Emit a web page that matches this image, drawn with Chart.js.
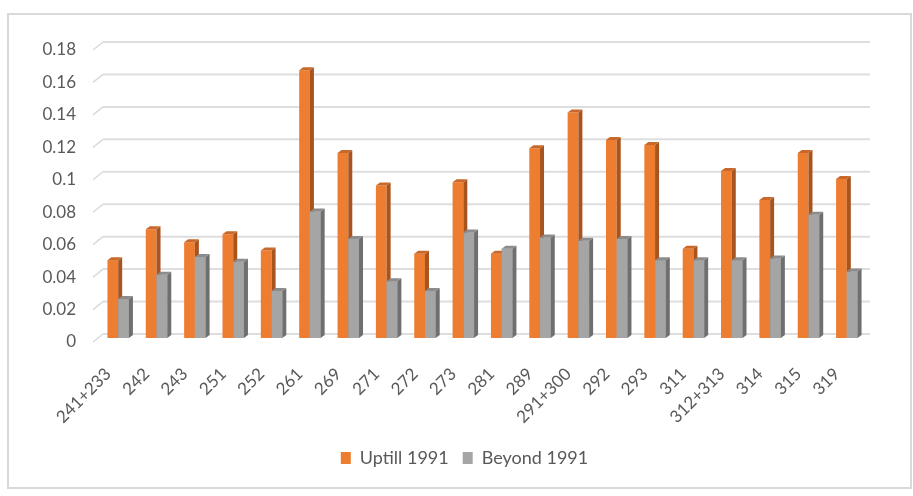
<!DOCTYPE html>
<html>
<head>
<meta charset="utf-8">
<script src="https://cdn.jsdelivr.net/npm/chart.js@4/dist/chart.umd.min.js"></script>
<style>
  html, body { margin: 0; padding: 0; background: #fff; }
  #wrap { width: 913px; height: 496px; position: relative; }
</style>
</head>
<body>
<div id="wrap"><canvas id="chart"></canvas></div>
<script>
const categories = ["241+233", "242", "243", "251", "252", "261", "269", "271", "272", "273",
  "281", "289", "291+300", "292", "293", "311", "312+313", "314", "315", "319"];
const uptill1991 = [0.048, 0.067, 0.059, 0.064, 0.054, 0.165, 0.114, 0.094, 0.052, 0.096,
  0.052, 0.117, 0.139, 0.122, 0.119, 0.055, 0.103, 0.085, 0.114, 0.098];
const beyond1991 = [0.024, 0.039, 0.050, 0.047, 0.029, 0.078, 0.061, 0.035, 0.029, 0.065,
  0.055, 0.062, 0.060, 0.061, 0.048, 0.048, 0.048, 0.049, 0.076, 0.041];
const yTicks = [0, 0.02, 0.04, 0.06, 0.08, 0.1, 0.12, 0.14, 0.16, 0.18];

const textColor = "#595959";
const fontName = "Lato, 'Liberation Sans', sans-serif";

// fake excel 3d look: side + top faces, border, slanted grid ticks
const depth = { dx: 4, dy: 3 };
const faces = [
  { side: "#a9541f", top: "#c8692b" },
  { side: "#6f6f6f", top: "#8c8c8c" }
];

function drawFaces(ctx, bar, col) {
  const p = bar.getProps(["x", "y", "base", "width"], true);
  const l = p.x - p.width / 2, r = p.x + p.width / 2;
  ctx.fillStyle = col.side;
  ctx.beginPath();
  ctx.moveTo(r, p.y);
  ctx.lineTo(r + depth.dx, p.y - depth.dy);
  ctx.lineTo(r + depth.dx, p.base - depth.dy);
  ctx.lineTo(r, p.base);
  ctx.closePath();
  ctx.fill();
  ctx.fillStyle = col.top;
  ctx.beginPath();
  ctx.moveTo(l, p.y);
  ctx.lineTo(l + depth.dx, p.y - depth.dy);
  ctx.lineTo(r + depth.dx, p.y - depth.dy);
  ctx.lineTo(r, p.y);
  ctx.closePath();
  ctx.fill();
}

const excelLook = {
  id: "excelLook",
  beforeDraw(chart) {
    const ctx = chart.ctx;
    ctx.save();
    ctx.strokeStyle = "#d9d9d9";
    ctx.lineWidth = 2;
    ctx.strokeRect(8, 14, 903, 474);
    // slanted ticks in front of the back wall
    const ys = chart.scales.y, a = chart.chartArea;
    ctx.lineWidth = 1.5;
    yTicks.forEach(v => {
      const py = ys.getPixelForValue(v) - 4;
      ctx.beginPath();
      ctx.moveTo(a.left - 6, py + 8);
      ctx.lineTo(a.left + 4, py);
      ctx.stroke();
    });
    ctx.restore();
  },
  afterDatasetsDraw(chart) {
    const ctx = chart.ctx;
    const m0 = chart.getDatasetMeta(0), m1 = chart.getDatasetMeta(1);
    ctx.save();
    m0.data.forEach(b => drawFaces(ctx, b, faces[0]));
    m1.data.forEach(b => { b.draw(ctx); drawFaces(ctx, b, faces[1]); });
    ctx.restore();
  }
};

// back wall grid sits a few px above/right of the bar plane
const backGrid = {
  id: "backGrid",
  beforeDatasetsDraw(chart) {
    const ctx = chart.ctx, ys = chart.scales.y, a = chart.chartArea;
    ctx.save();
    ctx.strokeStyle = "#dedede";
    ctx.lineWidth = 2;
    yTicks.forEach(v => {
      const py = ys.getPixelForValue(v) - 4;
      ctx.beginPath();
      ctx.moveTo(a.left + 4, py);
      ctx.lineTo(a.right + 4, py);
      ctx.stroke();
    });
    ctx.restore();
  }
};

new Chart(document.getElementById("chart"), {
  type: "bar",
  data: {
    labels: categories,
    datasets: [
      { label: "Uptill 1991", data: uptill1991, backgroundColor: "#ed7d31",
        categoryPercentage: 0.56, barPercentage: 1 },
      { label: "Beyond 1991", data: beyond1991, backgroundColor: "#a5a5a5",
        categoryPercentage: 0.56, barPercentage: 1 }
    ]
  },
  options: {
    responsive: true,
    maintainAspectRatio: false,
    animation: false,
    layout: { padding: { top: 46, right: 0, bottom: 19, left: 16 } },
    scales: {
      x: {
        grid: { display: false },
        border: { display: false },
        ticks: { color: textColor, font: { family: fontName, size: 17 },
          minRotation: 45, maxRotation: 45, padding: 18, labelOffset: -10 },
        afterFit: s => { s.height = 97; }
      },
      y: {
        min: 0, max: 0.18,
        afterBuildTicks: s => { s.ticks = yTicks.map(v => ({ value: v })); },
        grid: { display: false, drawTicks: false },
        border: { display: false },
        ticks: { color: textColor, font: { family: fontName, size: 17 },
          padding: 23, labelOffset: 4, callback: v => String(v) },
        afterFit: s => { s.width = 83; }
      },
      yRight: {
        position: "right",
        display: true,
        grid: { display: false, drawTicks: false },
        border: { display: false },
        ticks: { display: false },
        afterFit: s => { s.width = 47; }
      }
    },
    plugins: {
      legend: {
        position: "bottom",
        labels: { color: textColor, font: { family: fontName, size: 18 },
          boxWidth: 10, boxHeight: 12, padding: 14 }
      },
      tooltip: { enabled: false }
    }
  },
  plugins: [backGrid, excelLook]
});
</script>
</body>
</html>
